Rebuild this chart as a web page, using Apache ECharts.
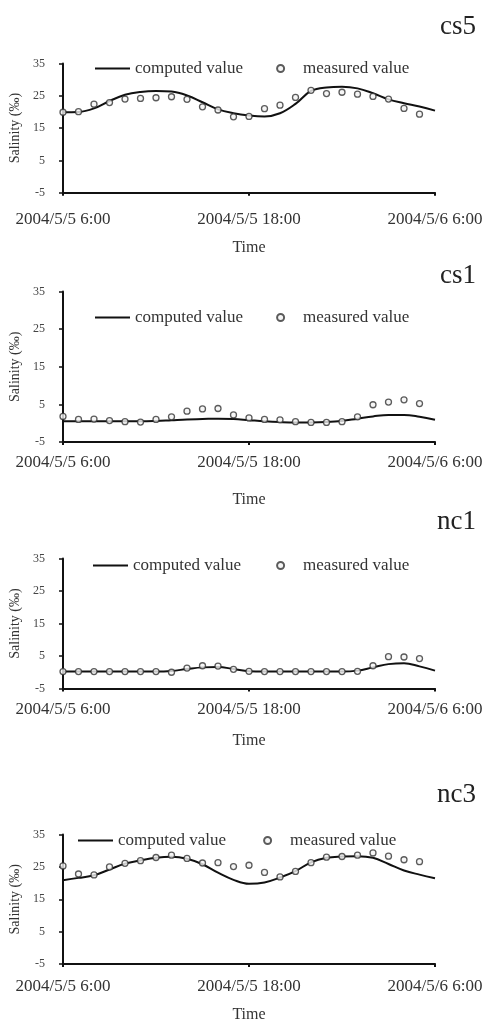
<!DOCTYPE html>
<html>
<head>
<meta charset="utf-8">
<title>Salinity: computed vs measured</title>
<script src="https://cdn.jsdelivr.net/npm/echarts@6/dist/echarts.min.js"></script>
<style>
  html, body { margin: 0; padding: 0; background: #fff; }
  #chart { width: 489px; height: 1024px; }
</style>
</head>
<body>
<div id="chart"></div>
<script>
// Hourly salinity (‰) at four stations, 2004/5/5 6:00 to 2004/5/6 6:00.
// Computed values: hours 0..24; measured values: hours 0..23.
const stations = ['cs5', 'cs1', 'nc1', 'nc3'];
const timeLabels = ['2004/5/5 6:00', '2004/5/5 18:00', '2004/5/6 6:00'];
const salinityTicks = [-5, 5, 15, 25, 35];

const cs5Computed = [19.9, 20.0, 21.1, 23.4, 25.3, 26.2, 26.5, 26.3, 25.1, 23.0, 20.8, 19.6, 18.9, 18.6, 19.6, 22.5, 26.5, 27.6, 27.8, 27.3, 25.8, 23.9, 22.7, 21.7, 20.4];
const cs5Measured = [19.9, 20.1, 22.4, 22.9, 24.0, 24.2, 24.4, 24.7, 23.9, 21.6, 20.6, 18.5, 18.6, 21.0, 22.1, 24.5, 26.7, 25.7, 26.1, 25.5, 24.8, 24.0, 21.1, 19.3];

const cs1Computed = [0.5, 0.5, 0.5, 0.5, 0.5, 0.5, 0.6, 0.8, 1.0, 1.1, 1.2, 1.1, 0.8, 0.5, 0.3, 0.2, 0.2, 0.3, 0.6, 1.2, 1.8, 2.2, 2.2, 1.7, 0.9];
const cs1Measured = [1.8, 1.0, 1.1, 0.7, 0.4, 0.3, 1.0, 1.7, 3.2, 3.8, 3.9, 2.2, 1.4, 1.0, 0.9, 0.4, 0.2, 0.2, 0.4, 1.7, 4.9, 5.6, 6.2, 5.2];

const nc1Computed = [0.2, 0.2, 0.2, 0.2, 0.2, 0.2, 0.2, 0.4, 1.0, 1.5, 1.6, 1.0, 0.3, 0.2, 0.2, 0.2, 0.2, 0.2, 0.2, 0.5, 1.5, 2.5, 2.8, 1.8, 0.5];
const nc1Measured = [0.2, 0.2, 0.2, 0.2, 0.2, 0.2, 0.2, 0.0, 1.3, 2.0, 1.9, 0.9, 0.3, 0.2, 0.2, 0.2, 0.2, 0.2, 0.2, 0.3, 2.0, 4.8, 4.7, 4.2];

const nc3Computed = [20.9, 21.6, 22.4, 24.2, 26.0, 27.0, 27.8, 28.1, 27.5, 25.8, 23.2, 21.0, 19.8, 20.2, 21.7, 23.7, 26.4, 27.8, 28.2, 28.3, 27.8, 25.9, 23.9, 22.6, 21.5];
const nc3Measured = [25.3, 22.8, 22.5, 25.0, 26.1, 26.9, 27.9, 28.6, 27.6, 26.2, 26.3, 25.1, 25.5, 23.3, 21.9, 23.6, 26.3, 28.0, 28.2, 28.6, 29.3, 28.3, 27.2, 26.6];

const computedSets = [cs5Computed, cs1Computed, nc1Computed, nc3Computed];
const measuredSets = [cs5Measured, cs1Measured, nc1Measured, nc3Measured];

// Panel layout (pixels)
const panels = [
  { top: 63.5,  height: 129.2, titleY: 25,  legendY: 69,  legendLeft: 95, legendGap: 33, labelMargin: 18, nameGap: 47 },
  { top: 291.5, height: 150.5, titleY: 274, legendY: 318, legendLeft: 95, legendGap: 33, labelMargin: 12, nameGap: 50 },
  { top: 558.5, height: 130,   titleY: 520, legendY: 566, legendLeft: 93, legendGap: 35, labelMargin: 13, nameGap: 44 },
  { top: 834.5, height: 132,   titleY: 793, legendY: 841, legendLeft: 78, legendGap: 37, labelMargin: 14, nameGap: 43 }
];

const SERIF = "'Liberation Serif', 'DejaVu Serif', serif";
const INK = '#111';
const TEXT = '#333';
// plain horizontal stroke used as the legend key of the computed curve
const LINE_KEY = 'path://M0,0 L35,0 L35,2 L0,2 Z';

const toPairs = arr => arr.map((v, h) => [h, v]);

const option = {
  backgroundColor: '#fff',
  animation: false,
  title: [], legend: [], grid: [], xAxis: [], yAxis: [], series: []
};

panels.forEach((p, i) => {
  option.title.push({
    text: stations[i],
    right: 13,
    top: p.titleY - 12,
    padding: 0,
    textStyle: { fontFamily: SERIF, fontSize: 27, fontWeight: 'normal', color: '#222' }
  });

  option.grid.push({ left: 63, width: 372, top: p.top, height: p.height });

  option.xAxis.push({
    type: 'value',
    gridIndex: i,
    min: 0, max: 24, interval: 12,
    name: 'Time',
    nameLocation: 'middle',
    nameGap: p.nameGap,
    nameTextStyle: { fontFamily: SERIF, fontSize: 16, color: TEXT },
    axisLine: { show: true, onZero: false, lineStyle: { color: INK, width: 2.2 } },
    axisTick: { show: true, length: 3, lineStyle: { color: INK, width: 2 } },
    axisLabel: {
      margin: p.labelMargin,
      fontFamily: SERIF, fontSize: 17, color: TEXT,
      formatter: v => timeLabels[Math.round(v / 12)]
    },
    splitLine: { show: false }
  });

  option.yAxis.push({
    type: 'value',
    gridIndex: i,
    min: salinityTicks[0],
    max: salinityTicks[salinityTicks.length - 1],
    interval: salinityTicks[1] - salinityTicks[0],
    name: 'Salinity (‰)',
    nameLocation: 'middle',
    nameRotate: 90,
    nameGap: 36,
    nameTextStyle: { fontFamily: SERIF, fontSize: 14, color: TEXT },
    axisLine: { show: true, lineStyle: { color: INK, width: 2 } },
    axisTick: { show: true, length: 4, lineStyle: { color: INK, width: 1.5 } },
    axisLabel: { margin: 18, fontFamily: SERIF, fontSize: 12, color: '#444' },
    splitLine: { show: false }
  });

  option.legend.push({
    left: p.legendLeft,
    top: p.legendY - 9,
    padding: 0,
    itemWidth: 35,
    itemHeight: 7,
    itemGap: p.legendGap,
    textStyle: { fontFamily: SERIF, fontSize: 17, color: TEXT },
    data: [
      { name: 'computed value', icon: LINE_KEY, itemStyle: { color: INK, borderWidth: 0 } },
      { name: 'measured value' }
    ]
  });

  option.series.push({
    name: 'computed value',
    type: 'line',
    xAxisIndex: i, yAxisIndex: i,
    data: toPairs(computedSets[i]),
    smooth: 0.4,
    symbol: 'none',
    lineStyle: { color: INK, width: 2 },
    itemStyle: { color: INK }
  });

  option.series.push({
    name: 'measured value',
    type: 'scatter',
    xAxisIndex: i, yAxisIndex: i,
    data: toPairs(measuredSets[i]),
    symbol: 'circle',
    symbolSize: 6,
    itemStyle: { color: '#f4f4f4', borderColor: '#333', borderWidth: 1.3 },
    z: 3
  });
});

const chart = echarts.init(document.getElementById('chart'), null, { renderer: 'canvas' });
chart.setOption(option);
</script>
</body>
</html>
